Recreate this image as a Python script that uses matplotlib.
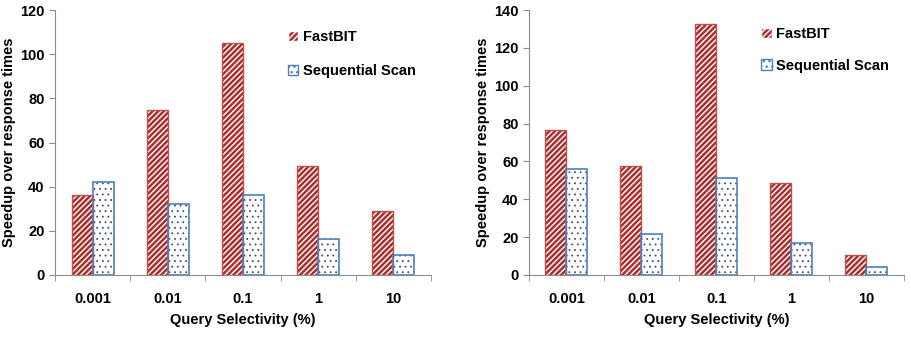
import matplotlib
matplotlib.use('Agg')

import matplotlib.pyplot as plt
from matplotlib.patches import Patch
import numpy as np

# data
categories = ['0.001', '0.01', '0.1', '1', '10']
left_fastbit = [36, 74.5, 105, 49.5, 29]
left_seqscan = [42, 32, 36, 16.5, 9]
right_fastbit = [76.5, 57.5, 132.5, 48.5, 10.5]
right_seqscan = [56, 21.5, 51, 17, 4]
left_ymax, left_ystep = 120, 20
right_ymax, right_ystep = 140, 20

plt.rcParams['font.family'] = ['Liberation Sans', 'DejaVu Sans']
plt.rcParams['font.weight'] = 'bold'

red_fill = '#A8312F'
red_edge = '#C0504D'
blue_edge = '#4F81BD'
grey = '#8C8C8C'


def draw_panel(ax, fastbit, seqscan, ymax, ystep, leg_anchor, leg_space):
    x = np.arange(len(categories))
    w = 0.28
    # red bars: white diagonal hatch over dark red, then outline
    with plt.rc_context({'hatch.linewidth': 1.0}):
        ax.bar(x - w / 2, fastbit, w, color=red_fill, edgecolor='white',
               hatch='//////', linewidth=0, zorder=2)
        h1 = Patch(facecolor=red_fill, edgecolor='white', hatch='//////')
    ax.bar(x - w / 2, fastbit, w, fill=False, edgecolor=red_edge,
           linewidth=1.0, zorder=3)
    # blue bars: dotted white
    with plt.rc_context({'hatch.linewidth': 0.6}):
        ax.bar(x + w / 2, seqscan, w, color='white', edgecolor='#3F5070',
               hatch='...', linewidth=0, zorder=2)
        h2 = Patch(facecolor='white', edgecolor=blue_edge, hatch='...')
    ax.bar(x + w / 2, seqscan, w, fill=False, edgecolor=blue_edge,
           linewidth=1.2, zorder=3)

    ax.set_xlim(-0.5, len(categories) - 0.5)
    ax.set_ylim(0, ymax)
    ax.set_yticks(np.arange(0, ymax + 1, ystep))
    ax.set_xticks(x)
    ax.set_xticklabels(categories, fontsize=10.5, fontweight='bold')
    ax.set_xticks(np.arange(-0.5, len(categories)), minor=True)
    ax.tick_params(axis='x', which='major', length=0, pad=12)
    ax.tick_params(axis='x', which='minor', length=4, color=grey)
    ax.tick_params(axis='y', length=4, color=grey, labelsize=10.5)
    for lab in ax.get_yticklabels():
        lab.set_fontweight('bold')
    for s in ['top', 'right']:
        ax.spines[s].set_visible(False)
    for s in ['left', 'bottom']:
        ax.spines[s].set_color(grey)
    ax.set_xlabel('Query Selectivity (%)', fontsize=10.5, fontweight='bold',
                  labelpad=5)
    ax.set_ylabel('Speedup over response times', fontsize=10.5,
                  fontweight='bold', labelpad=3)

    ax.legend([h1, h2], ['FastBIT', 'Sequential Scan'], loc='upper left',
              bbox_to_anchor=leg_anchor, frameon=False, handlelength=0.7,
              handleheight=0.7, handletextpad=0.3, labelspacing=leg_space,
              prop={'size': 10.5, 'weight': 'bold'})


fig = plt.figure(figsize=(9.12, 3.44), dpi=100)
ax1 = fig.add_axes([0.0603, 0.2006, 0.4123, 0.7703])
ax2 = fig.add_axes([0.580, 0.2006, 0.411, 0.7703])

draw_panel(ax1, left_fastbit, left_seqscan, left_ymax, left_ystep,
           (0.585, 0.975), 1.4)
draw_panel(ax2, right_fastbit, right_seqscan, right_ymax, right_ystep,
           (0.585, 0.985), 1.2)

plt.savefig('out.png', dpi=100)
